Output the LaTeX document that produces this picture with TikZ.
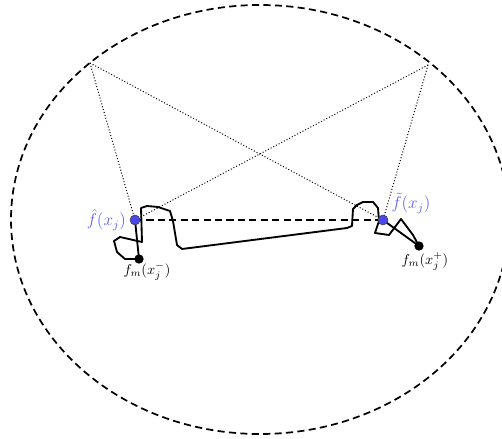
\documentclass[tikz,border=0pt]{standalone}
\definecolor{dotblue}{RGB}{72,72,235}
\definecolor{lblblue}{RGB}{95,95,240}
\begin{document}
\begin{tikzpicture}[x=0.7pt,y=-0.7pt,
  bluedot/.style={circle,fill=dotblue,draw=black!75,line width=0.4pt,inner sep=0pt,minimum size=7pt},
  blackdot/.style={circle,fill=black,inner sep=0pt,minimum size=6.5pt},
  guide/.style={line width=0.7pt,dash pattern=on 0.7pt off 1.4pt},
  curve/.style={line width=1.3pt,line join=round},
  bluelbl/.style={text=lblblue,inner sep=1pt,font=\fontsize{11.5}{13}\selectfont},
  blacklbl/.style={text=black,inner sep=1pt},
  rim/.style={line width=1.2pt,dash pattern=on 5pt off 3pt},
  link/.style={line width=1.2pt,dash pattern=on 5pt off 3pt}]
\useasboundingbox (0,0) rectangle (502,439);
\begin{scope}
  \clip (0,0) rectangle (502,439);
  \draw[rim] (260,219.5) ellipse [x radius=249, y radius=214.5];
\end{scope}
\coordinate (P1) at (90,63);
\coordinate (P2) at (428,65);
\coordinate (B1c) at (135,220);
\coordinate (B2c) at (383,220);
\coordinate (Lc) at (139,259);
\coordinate (Rc) at (419,246);
% dotted guides
\draw[guide] (P1) -- (B1c);
\draw[guide] (P1) -- (B2c);
\draw[guide] (P2) -- (B1c);
\draw[guide] (P2) -- (B2c);
% dashed link
\draw[link] (B1c) -- (B2c);
% wiggly curve
\draw[curve] (B1c) -- (Lc);
\draw[curve] (Lc) -- (125,259) -- (117,252) -- (114,241) -- (120,237) -- (142,242)
  -- (141,208) -- (147,206) -- (158,207) -- (170,211) -- (173,221) -- (177,245)
  -- (182,249) -- (347,228) -- (352,226) -- (353,209) -- (357,205) -- (363,202)
  -- (373,202) -- (378,208) -- (379,221) -- (375,233) -- (389,235) -- (401,219)
  -- (413,235) -- (Rc);
\draw[curve] (B2c) -- (Rc);
% dots
\node[bluedot] (B1) at (B1c) {};
\node[bluedot] (B2) at (B2c) {};
\node[blackdot] (L) at (Lc) {};
\node[blackdot] (R) at (Rc) {};
% labels
\node[bluelbl,anchor=east] (lh) at ([xshift=-1.5pt]B1.west) {$\hat f(x_j)$};
\node[bluelbl] (lt) at (411,203) {$\tilde f(x_j)$};
\node[blacklbl] (lm) at (147,271) {$f_m(x_j^-)$};
\node[blacklbl] (lp) at (425,261) {$f_m(x_j^+)$};
\end{tikzpicture}
\end{document}
